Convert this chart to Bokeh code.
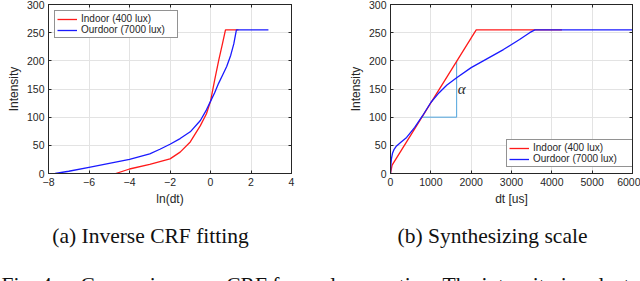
from bokeh.plotting import figure
from bokeh.models import (LinearAxis, FixedTicker, Legend, LegendItem, Label, Range1d,
                          CustomJSTickFormatter)
from bokeh.layouts import column, row
from bokeh.embed import file_html
from bokeh.resources import INLINE

# ---------------- data ----------------
# (a) Inverse CRF fitting
ln_dt_indoor = [-4.68, -4.0, -3.0, -2.0, -1.5, -1.0, -0.5, -0.2, 0.0, 0.2, 0.4, 0.6, 0.74, 1.38]
int_indoor_a = [0, 8, 16, 26, 38, 56, 85, 106, 128, 165, 200, 232, 255, 255]
ln_dt_outdoor = [-7.67, -7.0, -6.0, -5.0, -4.0, -3.0, -2.5, -2.0, -1.5, -1.0, -0.5, -0.2, 0.0,
                 0.2, 0.4, 0.6, 0.8, 1.0, 1.15, 1.28, 2.86]
int_outdoor_a = [0, 4, 11, 18, 25, 35, 43, 52, 62, 74, 94, 113, 128,
                 143, 160, 175, 190, 210, 230, 255, 255]

# (b) Synthesizing scale
dt_indoor = [0, 40, 2125, 4250]
int_indoor_b = [0, 15, 255, 255]
dt_outdoor = [0, 10, 25, 50, 90, 150, 250, 400, 600, 800, 1000, 1200, 1400, 1640, 2000,
              2400, 2800, 3200, 3450, 3580, 6000]
int_outdoor_b = [0, 16, 27, 36, 43, 49, 55, 64, 82, 103, 126, 143, 157, 170, 188,
                 204, 220, 238, 250, 255, 255]
slope_x = [780, 1640, 1640]
slope_y = [100, 100, 200]

xticks_a = [-8, -6, -4, -2, 0, 2, 4]
xticks_b = [0, 1000, 2000, 3000, 4000, 5000, 6000]
yticks = [0, 50, 100, 150, 200, 250, 300]

labels = ["Indoor (400 lux)", "Ourdoor (7000 lux)"]
captions = ["(a) Inverse CRF fitting", "(b) Synthesizing scale"]
fig_text = "Fig. 4."
fig_text2 = "Comparisons on CRF for scale operation. The intensity is selected b"

RED = "#ff1a1a"
BLUE = "#1a1aff"
AX = "#262626"
SANS = "Liberation Sans"
SERIF = "Liberation Serif"


def make_fig(width, xr, xticks, xlabel, left, right):
    p = figure(width=width, height=208, output_backend="svg", toolbar_location=None,
               x_range=Range1d(*xr), y_range=Range1d(0, 300),
               min_border_left=left, min_border_right=right,
               min_border_top=4, min_border_bottom=33)
    p.outline_line_color = AX
    p.background_fill_color = "white"
    p.border_fill_color = "white"
    p.xaxis.ticker = FixedTicker(ticks=xticks)
    p.yaxis.ticker = FixedTicker(ticks=yticks)
    p.xaxis.axis_label = xlabel
    p.yaxis.axis_label = "Intensity"
    for ax in [p.xaxis[0], p.yaxis[0]]:
        ax.major_tick_in = 3
        ax.major_tick_out = 0
        ax.minor_tick_line_color = None
        ax.axis_line_color = AX
        ax.major_tick_line_color = AX
        ax.major_label_text_font = SANS
        ax.major_label_text_font_size = "10.5px"
        ax.major_label_text_color = AX
        ax.axis_label_text_font = SANS
        ax.axis_label_text_font_size = "12px"
        ax.axis_label_text_font_style = "normal"
        ax.axis_label_text_color = AX
        ax.major_label_standoff = 4
        ax.axis_label_standoff = 3
    for place, tick in (("above", xticks), ("right", yticks)):
        extra = LinearAxis(ticker=FixedTicker(ticks=tick),
                           formatter=CustomJSTickFormatter(code="return ''"),
                           major_label_text_font_size="1px",
                           major_tick_in=3, major_tick_out=0, minor_tick_line_color=None,
                           axis_line_color=AX, major_tick_line_color=AX,
                           major_label_standoff=0, axis_label_standoff=0)
        p.add_layout(extra, place)
    p.xgrid.ticker = FixedTicker(ticks=xticks)
    p.ygrid.ticker = FixedTicker(ticks=yticks)
    p.grid.grid_line_color = "#e3e3e3"
    p.grid.grid_line_width = 1
    return p


def style_legend(lg):
    lg.label_text_font = SANS
    lg.label_text_font_size = "10px"
    lg.label_text_color = AX
    lg.glyph_width = 20
    lg.glyph_height = 10
    lg.label_height = 10
    lg.label_standoff = 4
    lg.padding = 2
    lg.spacing = 0
    lg.border_line_color = AX
    lg.border_line_width = 1
    lg.background_fill_alpha = 1.0


# ---- (a)
p1 = make_fig(345, (-8, 4), xticks_a, "ln(dt)", 48, 54)
r1 = p1.line(ln_dt_indoor, int_indoor_a, line_color=RED, line_width=1.3)
r2 = p1.line(ln_dt_outdoor, int_outdoor_a, line_color=BLUE, line_width=1.3)
lg1 = Legend(items=[LegendItem(label=labels[0], renderers=[r1]),
                    LegendItem(label=labels[1], renderers=[r2])],
             location="top_left", margin=6)
style_legend(lg1)
lg1.label_width = 94
p1.add_layout(lg1)

# ---- (b)
p2 = make_fig(295, (0, 6000), xticks_b, "dt [us]", 45, 8)
p2.line(slope_x, slope_y, line_color="#4ea3dc", line_width=1)
r3 = p2.line(dt_indoor, int_indoor_b, line_color=RED, line_width=1.3)
r4 = p2.line(dt_outdoor, int_outdoor_b, line_color=BLUE, line_width=1.3)
p2.add_layout(Label(x=1665, y=150, text="α", text_font=SERIF, text_font_style="italic",
                    text_font_size="15px", text_color=AX, text_baseline="middle"))
lg2 = Legend(items=[LegendItem(label=labels[0], renderers=[r3]),
                    LegendItem(label=labels[1], renderers=[r4])],
             location=(116, 6), margin=0)
style_legend(lg2)
lg2.label_width = 100
p2.add_layout(lg2)

# ---- captions
p3 = figure(width=640, height=73, output_backend="svg", toolbar_location=None,
            x_range=Range1d(0, 640), y_range=Range1d(0, 73),
            x_axis_type=None, y_axis_type=None, min_border=0)
p3.outline_line_color = None
p3.grid.visible = False
cap_style = dict(text_font=SERIF, text_font_size="21.5px", text_color="#111111")
p3.add_layout(Label(x=150, y=46, text=captions[0], text_align="center",
                    text_baseline="middle", **cap_style))
p3.add_layout(Label(x=492, y=46, text=captions[1], text_align="center",
                    text_baseline="middle", **cap_style))
p3.add_layout(Label(x=1, y=9, text=fig_text, text_align="left", text_baseline="top",
                    **cap_style))
p3.add_layout(Label(x=80, y=9, text=fig_text2, text_align="left", text_baseline="top",
                    **cap_style))

layout = column(row(p1, p2), p3)
open("out.html", "w").write(file_html(layout, INLINE))
